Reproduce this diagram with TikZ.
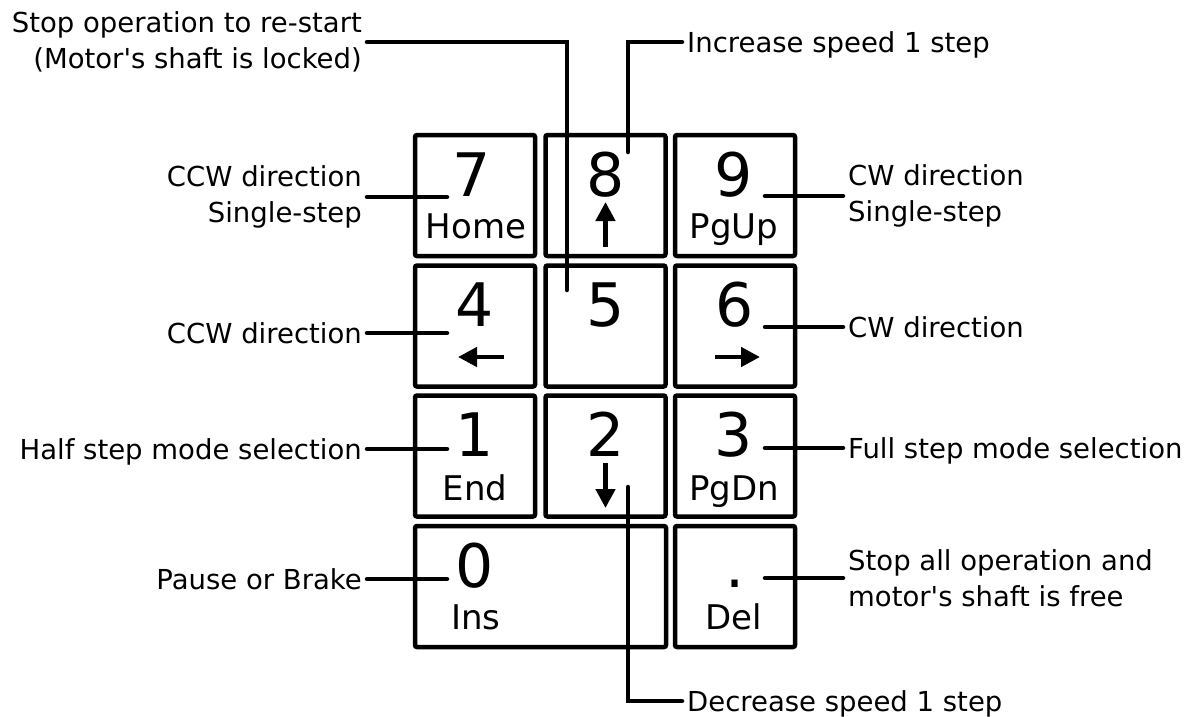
\documentclass[tikz,border=0pt]{standalone}
\usepackage{fontspec}
\newfontfamily\lab{DejaVu Sans}
\usetikzlibrary{arrows.meta}
\begin{document}
\begin{tikzpicture}[x=1pt,y=-1pt,
  key/.style={draw,line width=4.5pt,rounded corners=2pt,minimum width=120pt,minimum height=121pt,inner sep=0pt},
  num/.style={font=\lab\fontsize{60}{72}\selectfont,inner sep=0pt,anchor=base},
  sub/.style={font=\lab\fontsize{34}{40}\selectfont,inner sep=0pt,anchor=base},
  lbl/.style={font=\lab\fontsize{27.5}{36}\selectfont,inner xsep=5pt,inner ysep=0pt},
  single/.style={text height=20pt,text depth=0pt},
  conn/.style={line width=4.5pt,line cap=round},
  karrow/.style={line width=4.5pt,-{Triangle[length=19pt,width=19pt]}}]
\useasboundingbox (0,0) rectangle (1190,716);
% keys
\node[key] (k7) at (475,195.5) {};
\node[key] (k8) at (605.5,195.5) {};
\node[key] (k9) at (735,195.5) {};
\node[key] (k4) at (475,326) {};
\node[key] (k5) at (605.5,326) {};
\node[key] (k6) at (735,326) {};
\node[key] (k1) at (475,456) {};
\node[key] (k2) at (605.5,456) {};
\node[key] (k3) at (735,456) {};
\node[key,minimum width=251pt] (k0) at (540.5,586.5) {};
\node[key] (kd) at (735,586.5) {};
% key texts
\node[num] (n7) at (472,196) {7};
\node[sub] (s7) at (476,238) {Home};
\node[num] (n8) at (605.5,196) {8};
\node[num] (n9) at (734,196) {9};
\node[sub] (s9) at (734,238) {PgUp};
\node[num] (n4) at (475,326) {4};
\node[num] (n5) at (605.5,326) {5};
\node[num] (n6) at (735,326) {6};
\node[num] (n1) at (475,456) {1};
\node[sub] (s1) at (475,500) {End};
\node[num] (n2) at (605.5,456) {2};
\node[num] (n3) at (734,456) {3};
\node[sub] (s3) at (734,500) {PgDn};
\node[num] (n0) at (475,587) {0};
\node[sub] (s0) at (476,629) {Ins};
\node[num] (nd) at (735,587) {.};
\node[sub] (sd) at (734,629) {Del};
% key arrows
\draw[karrow] (605.5,247) -- (605.5,202);
\draw[karrow] (605.5,463) -- (605.5,508);
\draw[karrow] (504,357) -- (458,357);
\draw[karrow] (715,357) -- (760,357);
% connector ends
\coordinate (c7) at (447,197);
\coordinate (c4) at (447,333);
\coordinate (c1) at (447,449);
\coordinate (c0) at (447,579);
\coordinate (c9) at (765,196);
\coordinate (c6) at (765,327);
\coordinate (c3) at (765,448);
\coordinate (cd) at (765,578);
\coordinate (c5) at (567,290);
\coordinate (c8) at (628,152);
\coordinate (c2) at (628,487);
% labels
\node[lbl,anchor=east,align=right] (L7) at (367,197) {CCW direction\\Single-step};
\node[lbl,single,anchor=east] (L4) at (367,333) {CCW direction};
\node[lbl,single,anchor=east] (L1) at (367,449) {Half step mode selection};
\node[lbl,single,anchor=east] (L0) at (367,579) {Pause or Brake};
\node[lbl,anchor=west,align=left] (R9) at (843,196) {CW direction\\Single-step};
\node[lbl,single,anchor=west] (R6) at (843,327) {CW direction};
\node[lbl,single,anchor=west] (R3) at (843,448) {Full step mode selection};
\node[lbl,anchor=west,align=left] (Rd) at (843,578) {Stop all operation and\\motor's shaft is free};
\node[lbl,anchor=east,align=right] (Ls) at (367,42) {Stop operation to re-start\\(Motor's shaft is locked)};
\node[lbl,single,anchor=west] (Ri) at (682,42) {Increase speed 1 step};
\node[lbl,single,anchor=west] (Rdec) at (682,701) {Decrease speed 1 step};
% connectors
\draw[conn] (L7.east) -- (c7);
\draw[conn] (L4.east) -- (c4);
\draw[conn] (L1.east) -- (c1);
\draw[conn] (L0.east) -- (c0);
\draw[conn] (c9) -- (R9.west);
\draw[conn] (c6) -- (R6.west);
\draw[conn] (c3) -- (R3.west);
\draw[conn] (cd) -- (Rd.west);
\draw[conn] (Ls.east) -| (c5);
\draw[conn] (c8) |- (Ri.west);
\draw[conn] (c2) |- (Rdec.west);
\end{tikzpicture}
\end{document}
